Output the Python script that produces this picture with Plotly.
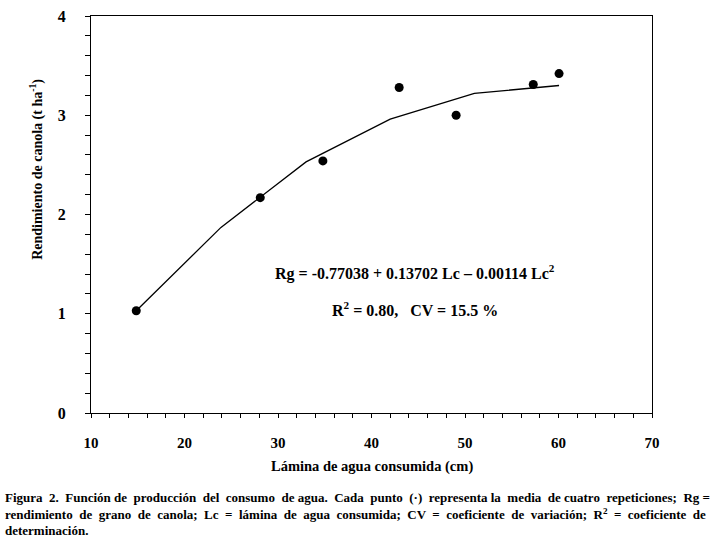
import plotly.graph_objects as go

# observed data (lámina consumida cm, rendimiento t/ha)
lc_obs = [14.84, 28.1, 34.8, 42.96, 49.05, 57.3, 60.06]
rg_obs = [1.03, 2.17, 2.54, 3.28, 3.00, 3.31, 3.42]

# fitted curve as drawn (polyline)
lc_fit = [14.84, 23.9, 33.0, 42.0, 51.0, 60.06]
rg_fit = [1.03, 1.87, 2.53, 2.96, 3.22, 3.30]

x_ticks = [10, 20, 30, 40, 50, 60, 70]
y_ticks = [0, 1, 2, 3, 4]

FONT = "Liberation Serif"

fig = go.Figure()
fig.add_trace(go.Scatter(x=lc_fit, y=rg_fit, mode="lines",
                         line=dict(color="black", width=1.3), hoverinfo="skip"))
fig.add_trace(go.Scatter(x=lc_obs, y=rg_obs, mode="markers",
                         marker=dict(color="black", size=9)))

fig.update_layout(
    width=713, height=543,
    margin=dict(l=91, r=61, t=8, b=130),
    paper_bgcolor="white", plot_bgcolor="white",
    showlegend=False,
    font=dict(family=FONT, color="black"),
    xaxis=dict(range=[10, 70], tickvals=x_ticks, showgrid=False, zeroline=False,
               showline=True, linecolor="black", linewidth=1.2, mirror=True,
               ticks="outside", ticklen=4, tickwidth=1, tickcolor="black",
               minor=dict(dtick=2, ticks="outside", ticklen=4, tickwidth=1, tickcolor="black"),
               tickfont=dict(family=FONT, size=15, color="black", weight="bold"),
               ticklabelstandoff=12, ticklabeloverflow="allow"),
    yaxis=dict(range=[0, 4], tickvals=y_ticks, showgrid=False, zeroline=False,
               showline=True, linecolor="black", linewidth=1.2, mirror=True,
               ticks="outside", ticklen=5, tickwidth=1, tickcolor="black",
               minor=dict(dtick=0.2, ticks="outside", ticklen=5, tickwidth=1, tickcolor="black"),
               tickfont=dict(family=FONT, size=16, color="black", weight="bold"),
               ticklabelstandoff=16, ticklabeloverflow="allow"),
)

fig.add_annotation(text="Rendimiento de canola (t ha<sup>-1</sup>)", textangle=-90,
                   xref="paper", yref="paper", x=(37 - 91) / 561, y=(412.7 - 165) / 404.4,
                   showarrow=False, font=dict(family=FONT, size=14, color="black", weight="bold"),
                   xanchor="center", yanchor="middle")
fig.add_annotation(text="Lámina de agua consumida (cm)",
                   xref="paper", yref="paper", x=0.5, y=(412.7 - 467) / 404.4,
                   showarrow=False, font=dict(family=FONT, size=14.5, color="black", weight="bold"),
                   xanchor="center", yanchor="middle")

eq = dict(family=FONT, size=16, color="black", weight="bold")
fig.add_annotation(text="Rg = -0.77038 + 0.13702 Lc \u2013 0.00114 Lc<sup>2</sup>",
                   x=44.6, y=1.42, showarrow=False, font=eq, xanchor="center", yanchor="middle")
fig.add_annotation(text="R<sup>2</sup> = 0.80,   CV = 15.5 %",
                   x=44.6, y=1.045, showarrow=False, font=eq, xanchor="center", yanchor="middle")

cap = dict(family=FONT, size=13, color="black", weight="bold")
# wider word gaps approximate the justified caption of the original
caption = [
    "Figura  2.  Función de  producción  del  consumo  de agua.  Cada  punto  (·)  representa la  media  de cuatro  repeticiones;  Rg =",
    "rendimiento  de  grano  de  canola;  Lc  =  lámina  de  agua  consumida;  CV  =  coeficiente  de  variación;  R<sup>2</sup>  =  coeficiente  de",
    "determinación.",
]
for i, line in enumerate(caption):
    fig.add_annotation(text=line, xref="paper", yref="paper",
                       x=(3 - 91) / 561, y=(412.7 - (499 + 16.5 * i)) / 404.4,
                       showarrow=False, font=cap, xanchor="left", yanchor="middle")

fig.write_html("out.html", config={"displayModeBar": False},
               post_script="document.body.style.margin='0px';document.body.style.overflow='hidden';")
